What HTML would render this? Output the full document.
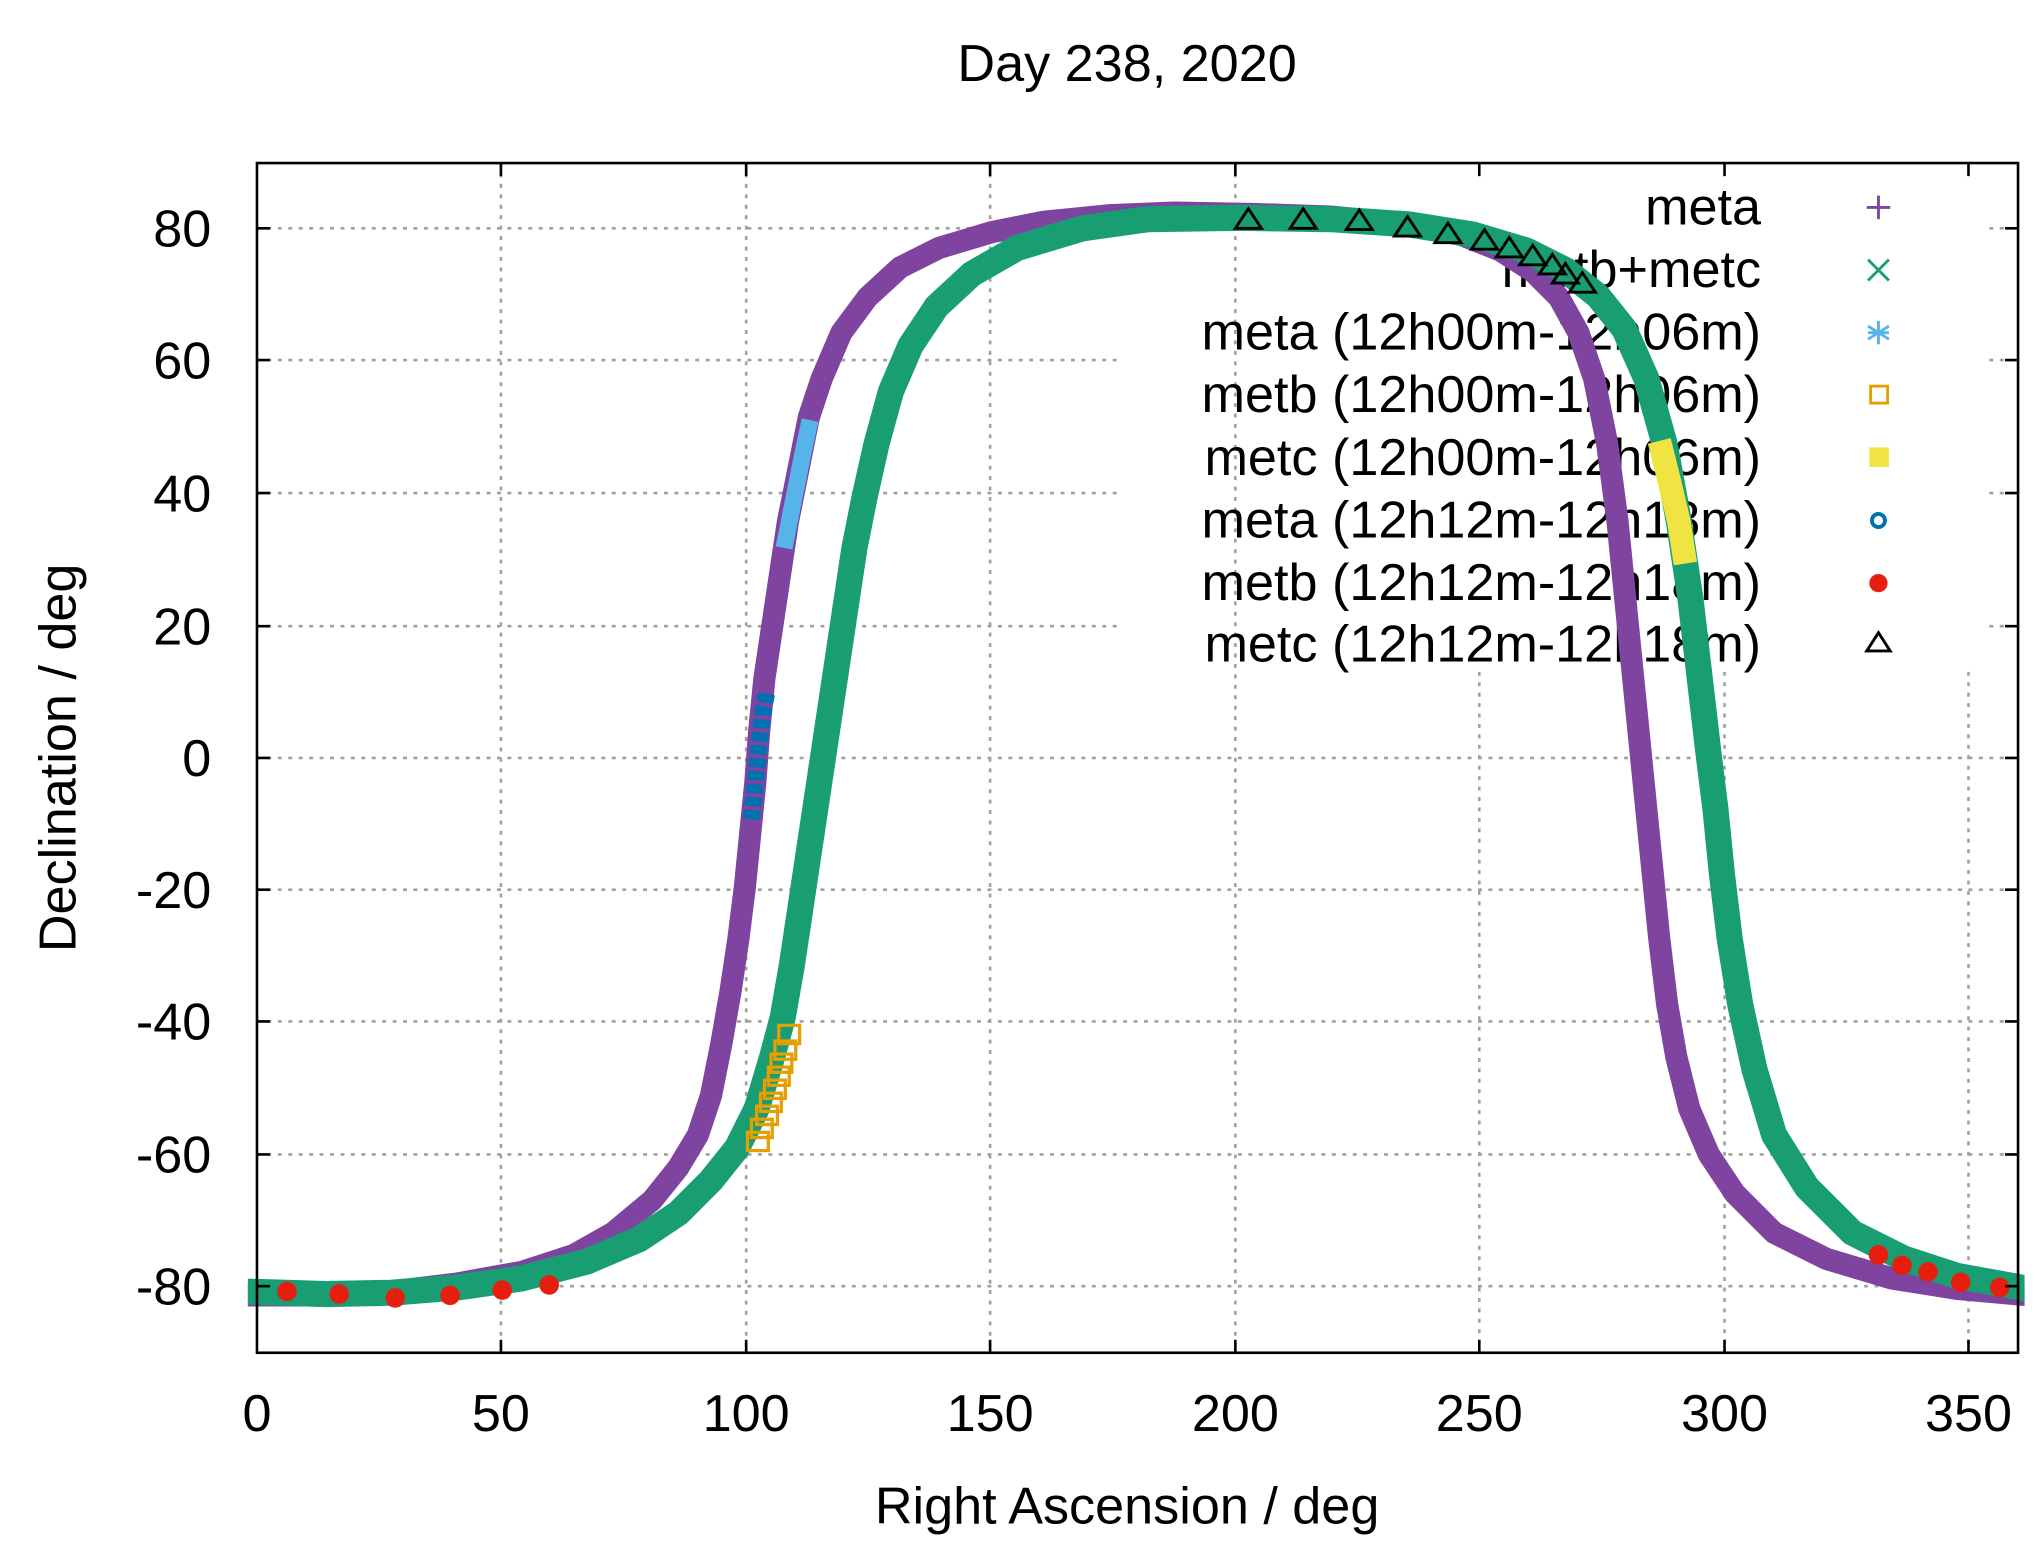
<!DOCTYPE html>
<html><head><meta charset="utf-8"><style>html,body{margin:0;padding:0;background:#fff;}svg{display:block}</style></head>
<body>
<svg width="2035" height="1559" viewBox="0 0 1560 1195.1" preserveAspectRatio="none" xmlns="http://www.w3.org/2000/svg" font-family="Liberation Sans, sans-serif">
<rect width="1560" height="1196" fill="#fff"/>
<defs>
<clipPath id="c"><rect x="190" y="125" width="1362" height="912"/></clipPath>
</defs>
<g stroke="#a0a0a0" stroke-width="2" stroke-dasharray="3,5" fill="none">
<line x1="197" y1="175" x2="857" y2="175"/><line x1="1525" y1="175" x2="1547" y2="175"/>
<line x1="197" y1="276" x2="857" y2="276"/><line x1="1525" y1="276" x2="1547" y2="276"/>
<line x1="197" y1="378" x2="857" y2="378"/><line x1="1525" y1="378" x2="1547" y2="378"/>
<line x1="197" y1="480" x2="857" y2="480"/><line x1="1525" y1="480" x2="1547" y2="480"/>
<line x1="197" y1="581" x2="1547" y2="581"/>
<line x1="197" y1="682" x2="1547" y2="682"/>
<line x1="197" y1="783" x2="1547" y2="783"/>
<line x1="197" y1="885" x2="1547" y2="885"/>
<line x1="197" y1="986" x2="1547" y2="986"/>
<line x1="384" y1="125" x2="384" y2="1037"/>
<line x1="572" y1="125" x2="572" y2="1037"/>
<line x1="759" y1="125" x2="759" y2="1037"/>
<line x1="947" y1="125" x2="947" y2="1037"/>
<line x1="1134" y1="515" x2="1134" y2="1037"/>
<line x1="1322" y1="515" x2="1322" y2="1037"/>
<line x1="1509" y1="515" x2="1509" y2="1037"/>
</g>
<g fill="#000" font-size="40" text-anchor="end">
<text x="1350" y="172">meta</text>
<text x="1350" y="220">metb+metc</text>
<text x="1350" y="268">meta (12h00m-12h06m)</text>
<text x="1350" y="316">metb (12h00m-12h06m)</text>
<text x="1350" y="364">metc (12h00m-12h06m)</text>
<text x="1350" y="412">meta (12h12m-12h18m)</text>
<text x="1350" y="460">metb (12h12m-12h18m)</text>
<text x="1350" y="507">metc (12h12m-12h18m)</text>
</g>
<g clip-path="url(#c)" fill="none" stroke-linejoin="round">
<polyline stroke="#7e44a0" stroke-width="17" points="185,993 250,993 300,990 350,984 400,975 440,962 470,945 500,920 520,895 535,870 545,840 553,800 560,760 566,720 571,680 575,640 579,600 582,560 586,520 592,480 598,440 604,400 612,360 620,320 630,290 645,255 665,228 690,205 720,190 760,178 800,170 850,165 900,163 960,164 1020,166 1080,172 1120,180 1150,192 1175,208 1195,228 1210,255 1222,290 1232,340 1240,400 1246,460 1252,520 1258,580 1262,620 1267,670 1272,720 1278,770 1285,810 1295,850 1310,885 1330,915 1360,945 1400,965 1450,980 1500,988 1555,993"/>
<polyline stroke="#199e74" stroke-width="20" points="185,990 250,992 300,991 350,987 400,980 450,967 490,950 520,930 545,905 565,880 580,850 592,810 600,780 607,740 613,700 619,660 625,620 631,580 637,540 643,500 649,460 655,420 663,380 672,340 683,300 698,265 718,235 745,210 780,190 830,175 880,168 950,167 1020,168 1080,172 1130,180 1170,192 1200,207 1225,227 1245,252 1262,290 1276,340 1287,400 1296,460 1303,520 1310,580 1315,620 1320,670 1326,720 1334,770 1345,820 1360,870 1385,910 1420,945 1460,965 1500,978 1555,988"/>
<polyline stroke="#56b4e9" stroke-width="13" points="601,420 606,395 611,370 616,345 621,322"/>
<polyline stroke="#0072b2" stroke-width="13" stroke-dasharray="7,3" points="576,628 579,600 582,570 585,545 588,530"/>
<polyline stroke="#f0e442" stroke-width="18" points="1272,338 1280,370 1287,400 1292,432"/>
</g>
<g fill="none" stroke="#e69f00" stroke-width="2.5">
<rect x="573" y="868" width="16" height="14"/><rect x="576" y="858" width="16" height="14"/><rect x="580" y="848" width="16" height="14"/><rect x="583" y="838" width="16" height="14"/><rect x="586" y="828" width="16" height="14"/><rect x="589" y="818" width="16" height="14"/><rect x="591" y="808" width="16" height="14"/><rect x="594" y="798" width="16" height="14"/><rect x="597" y="786" width="16" height="14"/>
</g>
<g fill="#e51e10">
<circle cx="220" cy="990" r="7.5"/><circle cx="260" cy="992" r="7.5"/><circle cx="303" cy="995" r="7.5"/><circle cx="345" cy="993" r="7.5"/><circle cx="385" cy="989" r="7.5"/><circle cx="421" cy="985" r="7.5"/>
<circle cx="1440" cy="962" r="7.5"/><circle cx="1458" cy="970" r="7.5"/><circle cx="1478" cy="975" r="7.5"/><circle cx="1503" cy="983" r="7.5"/><circle cx="1533" cy="987" r="7.5"/>
</g>
<g fill="none" stroke="#000" stroke-width="2.2">
<path d="M957,160 l-10,15 h20 z"/><path d="M999,160 l-10,15 h20 z"/><path d="M1042,161 l-10,15 h20 z"/><path d="M1079,166 l-10,15 h20 z"/><path d="M1110,171 l-10,15 h20 z"/><path d="M1138,176 l-10,15 h20 z"/><path d="M1157,182 l-10,15 h20 z"/><path d="M1175,188 l-10,15 h20 z"/><path d="M1190,195 l-10,15 h20 z"/><path d="M1200,202 l-10,15 h20 z"/><path d="M1213,209 l-10,15 h20 z"/>
</g>
<g stroke-width="2.2" fill="none">
<path d="M1440,150 v18 M1431,159 h18" stroke="#7e44a0"/>
<path d="M1432,199 l16,16 M1448,199 l-16,16" stroke="#199e74"/>
<path d="M1440,246 v18 M1432,250 l16,10 M1448,250 l-16,10 M1432,255 h16" stroke="#56b4e9"/>
<rect x="1434" y="296" width="13" height="13" stroke="#e69f00"/>
<rect x="1433" y="343" width="15" height="15" fill="#f0e442" stroke="none"/>
<circle cx="1440" cy="399" r="5" stroke="#0072b2" stroke-width="3"/>
<circle cx="1440" cy="447" r="7" fill="#e51e10" stroke="none"/>
<path d="M1440,485 l-9,14 h18 z" stroke="#000"/>
</g>
<rect x="197" y="125" width="1350" height="912" fill="none" stroke="#000" stroke-width="2"/>
<g stroke="#000" stroke-width="2">
<path d="M197,175h10M197,276h10M197,378h10M197,480h10M197,581h10M197,682h10M197,783h10M197,885h10M197,986h10"/>
<path d="M1547,175h-10M1547,276h-10M1547,378h-10M1547,480h-10M1547,581h-10M1547,682h-10M1547,783h-10M1547,885h-10M1547,986h-10"/>
<path d="M384,1037v-10M572,1037v-10M759,1037v-10M947,1037v-10M1134,1037v-10M1322,1037v-10M1509,1037v-10"/>
<path d="M384,125v10M572,125v10M759,125v10M947,125v10M1134,125v10M1322,125v10M1509,125v10"/>
</g>
<g font-size="40" fill="#000" text-anchor="end">
<text x="162" y="189">80</text><text x="162" y="290">60</text><text x="162" y="392">40</text><text x="162" y="494">20</text><text x="162" y="595">0</text><text x="162" y="696">-20</text><text x="162" y="797">-40</text><text x="162" y="899">-60</text><text x="162" y="1000">-80</text>
</g>
<g font-size="40" fill="#000" text-anchor="middle">
<text x="197" y="1097">0</text><text x="384" y="1097">50</text><text x="572" y="1097">100</text><text x="759" y="1097">150</text><text x="947" y="1097">200</text><text x="1134" y="1097">250</text><text x="1322" y="1097">300</text><text x="1509" y="1097">350</text>
<text x="864" y="1168">Right Ascension / deg</text>
<text x="864" y="62">Day 238, 2020</text>
<text transform="translate(58,581) rotate(-90)">Declination / deg</text>
</g>
</svg>
</body></html>
